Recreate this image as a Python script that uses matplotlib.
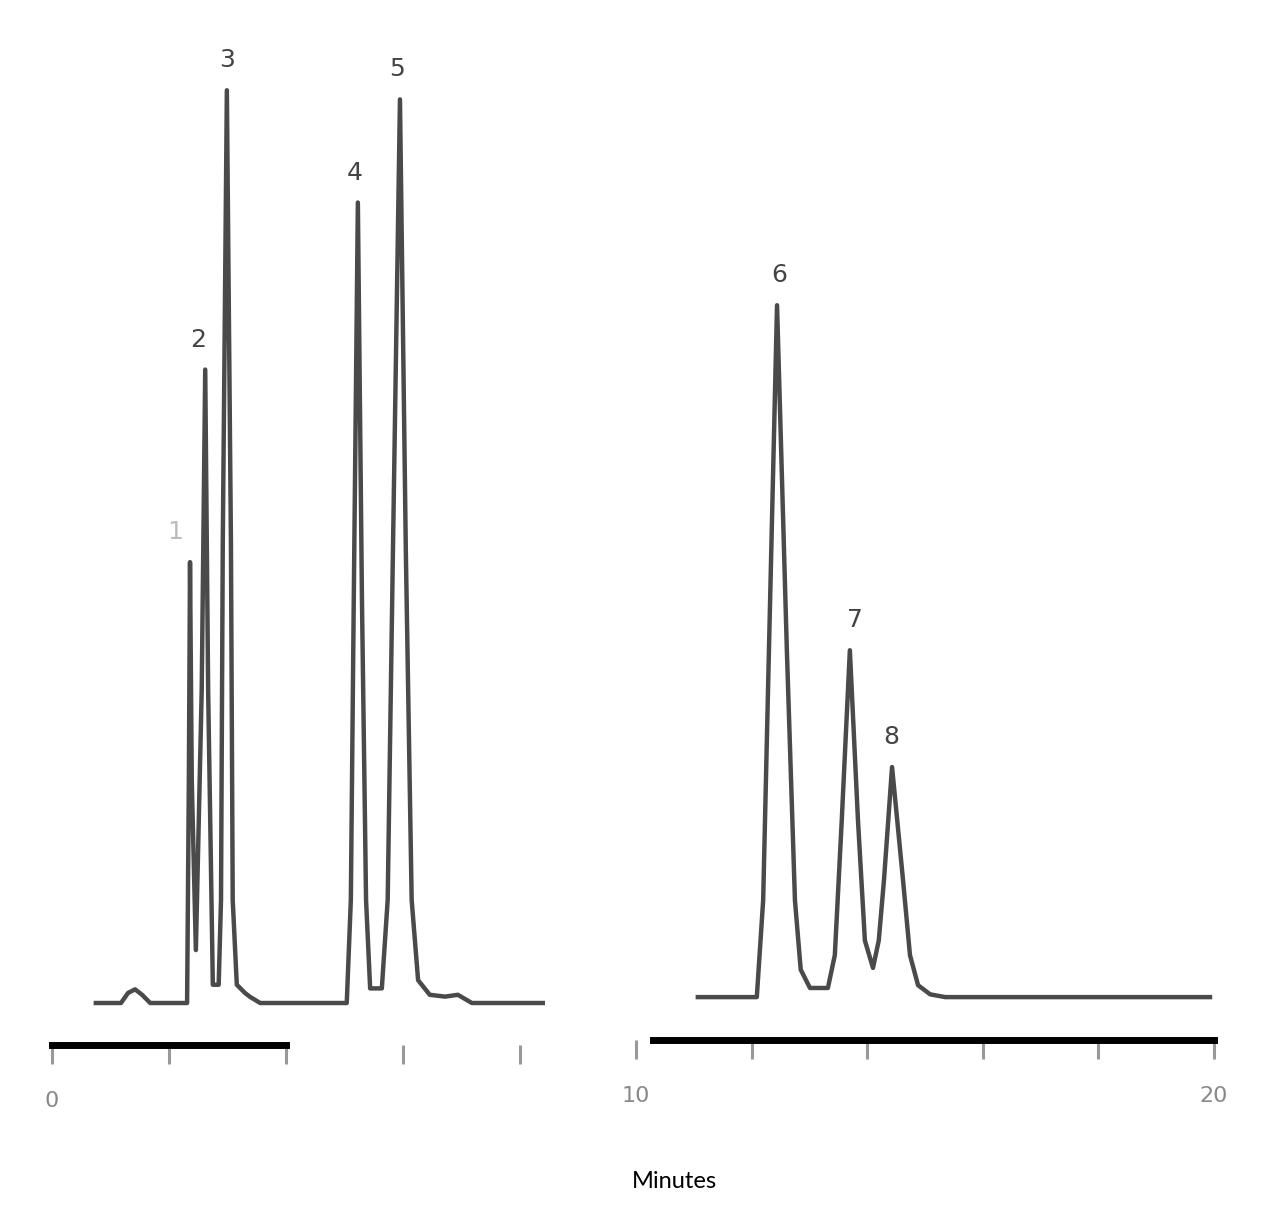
import matplotlib.pyplot as plt

# chromatogram: retention time (min) and detector signal (% of tallest peak)
left_time = [0.75, 1.18, 1.30, 1.42, 1.54, 1.68, 2.31, 2.34, 2.36, 2.39, 2.46,
             2.56, 2.62, 2.67, 2.75, 2.85, 2.89, 2.92, 2.99, 3.06, 3.09, 3.16,
             3.30, 3.38, 3.56, 5.04, 5.11, 5.16, 5.23, 5.30, 5.37, 5.44, 5.64,
             5.74, 5.83, 5.95, 6.05, 6.15, 6.26, 6.46, 6.72, 6.94, 7.18, 8.43]
left_signal = [0, 0, 1.1, 1.5, 0.9, 0, 0, 24.4, 48.3, 24.4, 5.8,
               34.3, 69.4, 34.3, 2.0, 2.0, 11.3, 50.2, 100.0, 50.2, 11.3, 2.0,
               1.1, 0.7, 0, 0, 11.3, 44.2, 87.7, 44.2, 11.3, 1.6, 1.6,
               11.3, 49.6, 99.0, 49.6, 11.3, 2.5, 0.9, 0.7, 0.9, 0, 0]

right_time = [11.07, 12.09, 12.20, 12.30, 12.44, 12.61, 12.75, 12.85, 13.01, 13.32,
              13.44, 13.56, 13.70, 13.84, 13.96, 14.10, 14.20, 14.29, 14.43, 14.62,
              14.74, 14.88, 15.09, 15.35, 19.93]
right_signal = [0, 0, 10.6, 38.0, 75.8, 38.0, 10.6, 3.0, 1.0, 1.0,
                4.6, 19.4, 38.0, 19.4, 6.2, 3.2, 6.2, 12.8, 25.2, 12.8,
                4.6, 1.3, 0.3, 0, 0]

# peak labels
peak_ids = ['1', '2', '3', '4', '5', '6', '7', '8']
peak_rt = [2.36, 2.62, 2.99, 5.23, 5.95, 12.44, 13.70, 14.43]
peak_height = [48.3, 69.4, 100.0, 87.7, 99.0, 75.8, 38.0, 25.2]
label_dx = [-15, -7, 0, -3, -3, 2, 5, -1]   # pixels, nudges seen in the picture

left_ticks = [0, 2, 4, 6, 8]
left_ticklabels = ['0', '', '', '', '']
right_ticks = [10, 12, 14, 16, 18, 20]
right_ticklabels = ['10', '', '', '', '', '20']

fig = plt.figure(figsize=(12.8, 12.26), dpi=100)
W, H = 1280, 1226

ax1 = fig.add_axes([52 / W, (H - 1045) / H, 493 / W, 1015 / H])
ax2 = fig.add_axes([636 / W, (H - 1040) / H, 578 / W, 1015 / H])

trace_kw = dict(color='#4a4a4a', lw=3.2, solid_joinstyle='round')
ax1.plot(left_time, left_signal, **trace_kw)
ax2.plot(right_time, right_signal, **trace_kw)

ax1.set_xlim(0, 8.43)
ax1.set_ylim(-4.6, 106.6)
ax2.set_xlim(10, 20)
ax2.set_ylim(-4.7, 106.5)

for ax, ticks, labels, bounds in [(ax1, left_ticks, left_ticklabels, (0, 4)),
                                  (ax2, right_ticks, right_ticklabels, (10.3, 20))]:
    for s in ['left', 'top', 'right']:
        ax.spines[s].set_visible(False)
    ax.spines['bottom'].set_linewidth(5)
    ax.spines['bottom'].set_color('black')
    ax.spines['bottom'].set_bounds(*bounds)
    ax.set_yticks([])
    ax.set_xticks(ticks)
    ax.set_xticklabels(labels)
    ax.tick_params(axis='x', direction='out', length=14, width=2.2,
                   color='#999999', pad=19, labelsize=16, labelcolor='#888888')
    ax.patch.set_alpha(0)

for pid, rt, h, dx in zip(peak_ids, peak_rt, peak_height, label_dx):
    ax = ax1 if rt < 10 else ax2
    col = '#bbbbbb' if pid == '1' else '#444444'
    ax.annotate(pid, xy=(rt, h), xytext=(dx, 18), textcoords='offset pixels',
                ha='center', va='bottom', fontsize=18, color=col)

fig.text(674 / W, (H - 1181) / H, 'Minutes', ha='center', va='center',
         fontsize=17, family='Lato', color='black')

fig.savefig('out.png', dpi=100)
